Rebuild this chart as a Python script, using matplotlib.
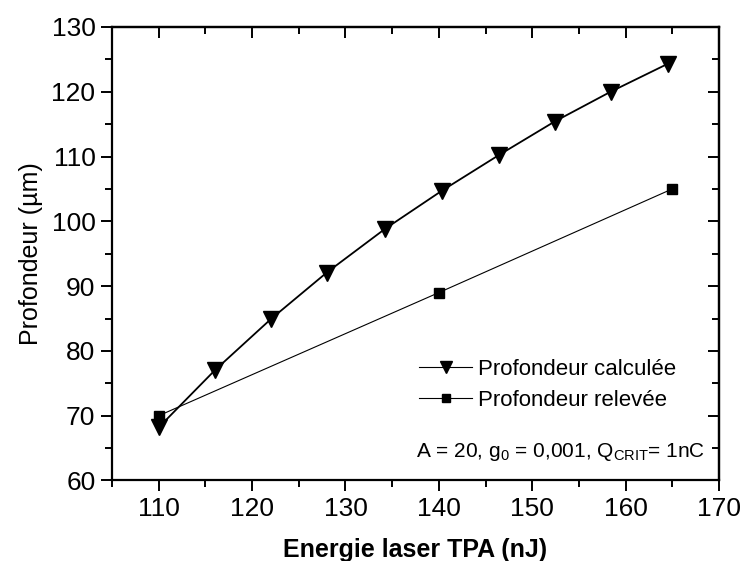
import matplotlib
matplotlib.use("Agg")
import matplotlib.pyplot as plt
from matplotlib.ticker import MultipleLocator

# data
energie_calc = [110, 116, 122, 128, 134.2, 140.3, 146.4, 152.4, 158.4, 164.5]
prof_calc = [68.2, 77.0, 84.9, 92.1, 98.8, 104.7, 110.2, 115.4, 120.0, 124.3]
energie_rel = [110, 140, 165]
prof_rel = [70, 89, 105]

fam = "Liberation Sans"
plt.rcParams["font.family"] = [fam, "DejaVu Sans"]
plt.rcParams["mathtext.fontset"] = "custom"
plt.rcParams["mathtext.rm"] = fam
plt.rcParams["mathtext.it"] = fam

fig = plt.figure(figsize=(7.42, 5.61), dpi=100)
ax = fig.add_axes([0.151, 0.1435, 0.818, 0.8085])

ax.plot(energie_calc, prof_calc, color="black", lw=1.3, marker="v", ms=11,
        label="Profondeur calculée")
ax.plot(energie_rel, prof_rel, color="black", lw=0.8, marker="s", ms=7,
        label="Profondeur relevée")

ax.set_xlim(105, 170)
ax.set_ylim(60, 130)
ax.xaxis.set_major_locator(MultipleLocator(10))
ax.xaxis.set_minor_locator(MultipleLocator(5))
ax.yaxis.set_major_locator(MultipleLocator(10))
ax.yaxis.set_minor_locator(MultipleLocator(5))
ax.set_xticks([110, 120, 130, 140, 150, 160, 170])

for s in ax.spines.values():
    s.set_linewidth(1.6)

ax.tick_params(which="both", direction="out", width=1.4, labelsize=19, pad=4,
               top=False, right=False)
ax.tick_params(which="major", length=8)
ax.tick_params(which="minor", length=5)

# inward mirrored ticks on top and right
sec_x = ax.secondary_xaxis("top")
sec_x.xaxis.set_major_locator(MultipleLocator(10))
sec_x.xaxis.set_minor_locator(MultipleLocator(5))
sec_x.tick_params(which="both", direction="in", width=1.4, labeltop=False)
sec_x.tick_params(which="major", length=8)
sec_x.tick_params(which="minor", length=5)
sec_x.spines["top"].set_linewidth(1.6)
sec_y = ax.secondary_yaxis("right")
sec_y.yaxis.set_major_locator(MultipleLocator(10))
sec_y.yaxis.set_minor_locator(MultipleLocator(5))
sec_y.tick_params(which="both", direction="in", width=1.4, labelright=False)
sec_y.tick_params(which="major", length=8)
sec_y.tick_params(which="minor", length=5)
sec_y.spines["right"].set_linewidth(1.6)

ax.set_xlabel("Energie laser TPA (nJ)", fontsize=18, fontweight="bold", labelpad=12)
ax.set_ylabel("Profondeur (µm)", fontsize=18, labelpad=6)

leg = ax.legend(loc="center left", bbox_to_anchor=(0.506, 0.2105), frameon=False,
                fontsize=16, handlelength=2.4, handletextpad=0.25, labelspacing=0.45,
                borderaxespad=0, borderpad=0, markerscale=0.75)
for ln in leg.get_lines():
    ln.set_linewidth(0.8)

ax.text(0.977, 0.063, r"A = 20, g$_0$ = 0,001, Q$_{CRIT}$= 1nC", transform=ax.transAxes,
        ha="right", va="center", fontsize=15)

fig.savefig("out.png", dpi=100)
